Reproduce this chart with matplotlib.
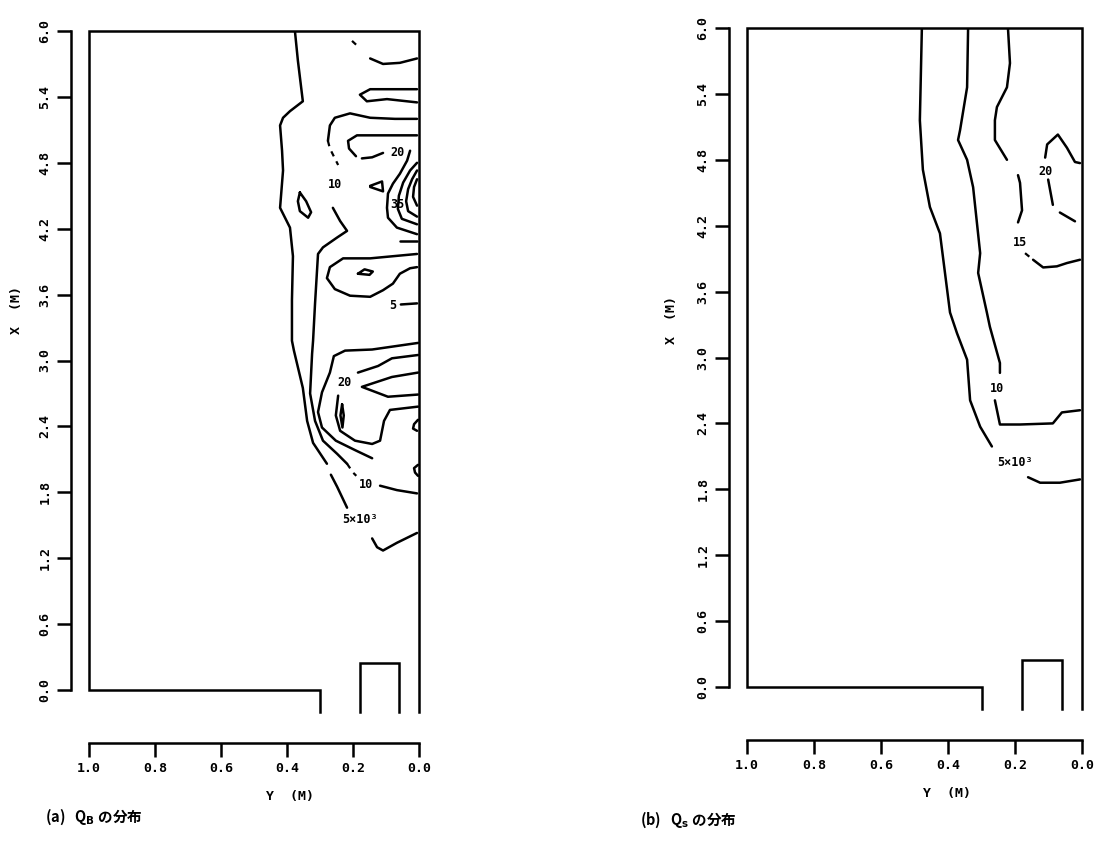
import matplotlib.pyplot as plt
import numpy as np

plt.rcParams['font.family'] = ['DejaVu Sans Mono', 'DejaVu Sans']

# axis ticks (Y = distance across, X = distance along, metres)
y_ticks = [1.0, 0.8, 0.6, 0.4, 0.2, 0.0]
y_ticklabels = ['1.0', '0.8', '0.6', '0.4', '0.2', '0.0']
x_ticks = [0.0, 0.6, 1.2, 1.8, 2.4, 3.0, 3.6, 4.2, 4.8, 5.4, 6.0]
x_ticklabels = ['0.0', '0.6', '1.2', '1.8', '2.4', '3.0', '3.6', '4.2', '4.8', '5.4', '6.0']

# flume outline (Y, X)
flume_y = [0.30, 0.30, 1.0, 1.0, 0.0, 0.0]
flume_x = [-0.20, 0.0, 0.0, 6.0, 6.0, -0.20]
notch_y = [0.18, 0.18, 0.06, 0.06]
notch_x = [-0.20, 0.25, 0.25, -0.20]

# ---- (a) Q_B contour lines, (Y list, X list) ----
qb_5a = ([0.376, 0.367, 0.352, 0.391, 0.412, 0.421, 0.415, 0.412, 0.421, 0.391, 0.382, 0.385, 0.385, 0.379, 0.352, 0.339, 0.321, 0.279],
         [6.00, 5.73, 5.36, 5.27, 5.21, 5.14, 4.91, 4.73, 4.39, 4.21, 3.95, 3.55, 3.18, 3.09, 2.75, 2.45, 2.25, 2.06])
qb_5b = ([0.267, 0.248, 0.218], [1.96, 1.85, 1.66])
qb_5c = ([0.142, 0.127, 0.109, 0.067, 0.006], [1.38, 1.30, 1.27, 1.34, 1.43])
qb_10a = ([0.006, 0.073, 0.148, 0.209, 0.255, 0.270, 0.276], [5.20, 5.20, 5.21, 5.25, 5.21, 5.14, 5.00])
qb_10a_dash = ([0.276, 0.270, 0.245], [5.00, 4.93, 4.78])
qb_10b = ([0.261, 0.239, 0.218, 0.248, 0.291, 0.306, 0.309, 0.315, 0.321, 0.324, 0.330, 0.315, 0.291, 0.248, 0.218],
          [4.39, 4.27, 4.18, 4.12, 4.03, 3.97, 3.82, 3.52, 3.18, 3.06, 2.70, 2.45, 2.27, 2.15, 2.06])
qb_10b_dot = ([0.218, 0.200, 0.190], [2.06, 1.98, 1.95])
qb_10c = ([0.118, 0.067, 0.006], [1.86, 1.82, 1.79])
qb_top_dash = ([0.203, 0.185], [5.91, 5.86])
qb_top = ([0.148, 0.109, 0.058, 0.006], [5.75, 5.70, 5.71, 5.75])
qb_tongue = ([0.006, 0.067, 0.148, 0.179, 0.158, 0.097, 0.006], [5.47, 5.47, 5.47, 5.42, 5.36, 5.38, 5.35])
qb_20a = ([0.006, 0.103, 0.188, 0.215, 0.212, 0.191], [5.05, 5.05, 5.05, 5.00, 4.93, 4.86])
qb_20b = ([0.173, 0.142, 0.109], [4.84, 4.85, 4.89])
qb_20c = ([0.027, 0.036, 0.058, 0.079, 0.094, 0.097, 0.094, 0.067, 0.006],
          [4.91, 4.82, 4.70, 4.61, 4.52, 4.39, 4.30, 4.21, 4.15])
qb_25 = ([0.006, 0.027, 0.048, 0.061, 0.064, 0.052, 0.006], [4.80, 4.73, 4.62, 4.50, 4.38, 4.29, 4.24])
qb_30 = ([0.006, 0.021, 0.033, 0.039, 0.033, 0.006], [4.73, 4.65, 4.56, 4.45, 4.36, 4.31])
qb_35 = ([0.006, 0.015, 0.018, 0.006], [4.65, 4.58, 4.49, 4.41])
qb_short = ([0.006, 0.058], [4.09, 4.09])
qb_tri = ([0.148, 0.112, 0.109, 0.148], [4.59, 4.63, 4.54, 4.58])
qb_lozenge = ([0.361, 0.342, 0.327, 0.336, 0.361, 0.367, 0.361], [4.53, 4.45, 4.35, 4.30, 4.36, 4.45, 4.53])
qb_loop = ([0.006, 0.148, 0.230, 0.270, 0.279, 0.255, 0.209, 0.148, 0.109, 0.079, 0.058, 0.027, 0.006],
           [3.97, 3.93, 3.93, 3.85, 3.75, 3.65, 3.59, 3.58, 3.64, 3.70, 3.79, 3.84, 3.85])
qb_lens = ([0.185, 0.165, 0.140, 0.150, 0.185], [3.79, 3.83, 3.81, 3.78, 3.79])
qb_5r = ([0.055, 0.006], [3.51, 3.52])
qb_15l = ([0.003, 0.142, 0.224, 0.258, 0.270, 0.294, 0.306, 0.294, 0.252, 0.191, 0.142],
          [3.16, 3.10, 3.09, 3.04, 2.89, 2.71, 2.53, 2.39, 2.27, 2.18, 2.11])
qb_20la = ([0.003, 0.082, 0.124, 0.185], [3.05, 3.02, 2.95, 2.89])
qb_20lb = ([0.245, 0.252, 0.239, 0.194, 0.142, 0.118, 0.106, 0.088, 0.003],
           [2.68, 2.50, 2.36, 2.27, 2.24, 2.27, 2.45, 2.55, 2.58])
qb_vee = ([0.003, 0.082, 0.173, 0.094, 0.003], [2.89, 2.85, 2.76, 2.67, 2.69])
qb_spike = ([0.233, 0.228, 0.232, 0.238, 0.233], [2.60, 2.50, 2.39, 2.50, 2.60])
qb_bit1 = ([0.003, 0.015, 0.018, 0.006], [2.46, 2.42, 2.38, 2.36])
qb_bit2 = ([0.003, 0.015, 0.012, 0.003], [2.05, 2.02, 1.98, 1.95])

qb_solid = [qb_5a, qb_5b, qb_5c, qb_10a, qb_10b, qb_10c, qb_top, qb_tongue, qb_20a, qb_20b, qb_20c,
            qb_25, qb_30, qb_35, qb_short, qb_tri, qb_lozenge, qb_loop, qb_lens, qb_5r, qb_15l,
            qb_20la, qb_20lb, qb_vee, qb_spike, qb_bit1, qb_bit2]
qb_dashed = [qb_10a_dash, qb_10b_dot, qb_top_dash]
qb_labels = [('10', 0.255, 4.60), ('20', 0.064, 4.89), ('35', 0.067, 4.42), ('5', 0.079, 3.50),
             ('20', 0.227, 2.80), ('10', 0.161, 1.87), ('5×10³', 0.180, 1.55)]

# ---- (b) Q_s contour lines ----
qs_5a = ([0.478, 0.484, 0.475, 0.454, 0.424, 0.394, 0.373, 0.343, 0.334, 0.304, 0.269],
         [6.00, 5.16, 4.71, 4.37, 4.13, 3.41, 3.22, 2.98, 2.61, 2.37, 2.19])
qs_5b = ([0.161, 0.125, 0.066, 0.006], [1.91, 1.86, 1.86, 1.89])
qs_10a = ([0.340, 0.343, 0.364, 0.370, 0.343, 0.325, 0.304, 0.310, 0.284, 0.275, 0.245, 0.245],
          [6.00, 5.46, 5.07, 4.98, 4.80, 4.55, 3.95, 3.77, 3.41, 3.28, 2.95, 2.86])
qs_10b = ([0.260, 0.245, 0.185, 0.087, 0.060, 0.006], [2.61, 2.39, 2.39, 2.40, 2.50, 2.52])
qs_15a = ([0.221, 0.215, 0.224, 0.254, 0.260, 0.260, 0.224], [6.00, 5.68, 5.46, 5.28, 5.16, 4.98, 4.80])
qs_15b = ([0.191, 0.185, 0.179, 0.191], [4.66, 4.59, 4.34, 4.23])
qs_15c = ([0.146, 0.116, 0.075, 0.045, 0.006], [3.89, 3.82, 3.83, 3.86, 3.89])
qs_15_dot = ([0.170, 0.150], [3.95, 3.90])
qs_20a = ([0.110, 0.104, 0.072, 0.045, 0.021, 0.006], [4.82, 4.94, 5.03, 4.91, 4.78, 4.77])
qs_20b = ([0.101, 0.087], [4.62, 4.39])
qs_20c = ([0.066, 0.021], [4.32, 4.24])

qs_solid = [qs_5a, qs_5b, qs_10a, qs_10b, qs_15a, qs_15b, qs_15c, qs_20a, qs_20b, qs_20c]
qs_dashed = [qs_15_dot]
qs_labels = [('20', 0.110, 4.69), ('15', 0.185, 4.05), ('10', 0.254, 2.72), ('5×10³', 0.200, 2.04)]

W, H = 1103, 841
fig = plt.figure(figsize=(W / 100, H / 100), dpi=100)
ax_a = fig.add_axes([89 / W, (H - 690) / H, 330 / W, 659 / H])
ax_b = fig.add_axes([747 / W, (H - 687) / H, 335 / W, 659 / H])


def draw_panel(ax, solid, dashed, labels, ylab_pos, xlab_pos):
    ax.set_xlim(1.0, 0.0)
    ax.set_ylim(0.0, 6.0)
    ax.patch.set_visible(False)
    for s in ['top', 'right']:
        ax.spines[s].set_visible(False)
    ax.spines['left'].set_position(('outward', 13))
    ax.spines['bottom'].set_position(('outward', 38))
    ax.spines['left'].set_bounds(0.0, 6.0)
    ax.spines['bottom'].set_bounds(0.0, 1.0)
    ax.spines['left'].set_linewidth(1.8)
    ax.spines['bottom'].set_linewidth(1.8)
    ax.set_xticks(y_ticks)
    ax.set_xticklabels(y_ticklabels, fontsize=9.5, fontweight='bold')
    ax.set_yticks(x_ticks)
    ax.set_yticklabels(x_ticklabels, fontsize=9.5, fontweight='bold', rotation=90, va='center')
    ax.tick_params(direction='out', length=10, width=1.8, pad=4)
    ax.set_ylabel('X  (M)', fontsize=9.5, fontweight='bold')
    ax.yaxis.set_label_coords(*ylab_pos)
    ax.set_xlabel('Y  (M)', fontsize=9.5, fontweight='bold')
    ax.xaxis.set_label_coords(*xlab_pos)

    ax.plot(flume_y, flume_x, color='black', lw=1.8, clip_on=False, solid_joinstyle='miter')
    ax.plot(notch_y, notch_x, color='black', lw=1.8, clip_on=False, solid_joinstyle='miter')

    for yy, xx in solid:
        ax.plot(yy, xx, color='black', lw=1.8, solid_capstyle='round', solid_joinstyle='round')
    for yy, xx in dashed:
        ax.plot(yy, xx, color='black', lw=1.6, linestyle=(0, (2.5, 2.5)))
    for txt, yy, xx in labels:
        ax.text(yy, xx, txt, fontsize=8.5, fontweight='bold', ha='center', va='center')


draw_panel(ax_a, qb_solid, qb_dashed, qb_labels, (-0.20, 0.577), (0.609, -0.152))
draw_panel(ax_b, qs_solid, qs_dashed, qs_labels, (-0.205, 0.557), (0.597, -0.152))

cap_font = ['Noto Sans CJK JP', 'DejaVu Sans']
fig.text(45 / W, 1 - 817 / H, r'(a)   Q$_\mathbf{B}$ の分布', fontsize=10.5, fontweight='bold',
         family=cap_font, ha='left', va='center')
fig.text(640 / W, 1 - 820 / H, r'(b)   Q$_\mathbf{s}$ の分布', fontsize=10.5, fontweight='bold',
         family=cap_font, ha='left', va='center')

fig.savefig('out.png', dpi=100)
